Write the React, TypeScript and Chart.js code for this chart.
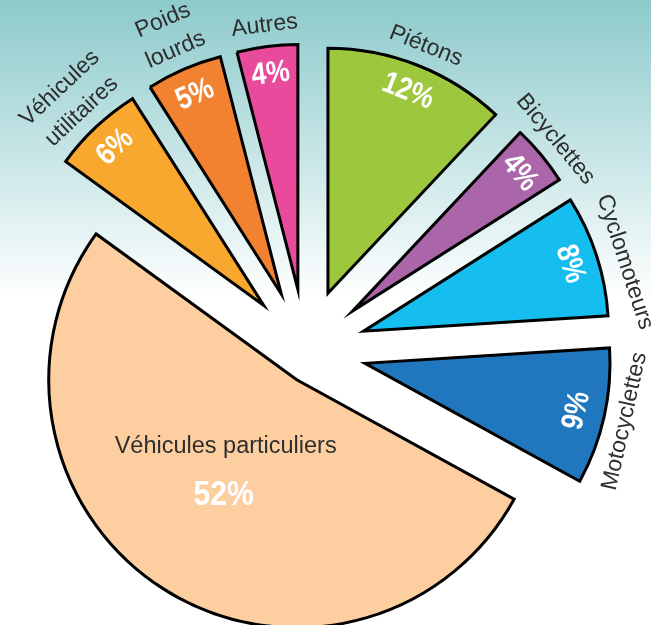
import { useEffect, useRef } from 'react';
import { Chart, registerables } from 'chart.js';

Chart.register(...registerables);

// Slices, clockwise from the top
const categories = ['Piétons', 'Bicyclettes', 'Cyclomoteurs', 'Motocyclettes', 'Véhicules particuliers', 'Véhicules utilitaires', 'Poids lourds', 'Autres'];
const categoryLines = [['Piétons'], ['Bicyclettes'], ['Cyclomoteurs'], ['Motocyclettes'], ['Véhicules particuliers'], ['Véhicules', 'utilitaires'], ['Poids', 'lourds'], ['Autres']];
const shares = [12, 4, 8, 9, 52, 6, 5, 4];
const shareLabels = ['12%', '4%', '8%', '9%', '52%', '6%', '5%', '4%'];
const colors = ['#9DC83D', '#AB66AA', '#16BEEF', '#2177BD', '#FCCEA0', '#F8A72F', '#F2822F', '#EA4A9B'];
// explode distance (px), tilt of the explode direction (deg), extra radius (px)
const explode = [61, 61, 61, 61, 31, 61, 61, 61];
const explodeTilt = [0, 0, 0, 0, -16, 0, 0, 0];
const radiusExtra = [0, 0, 0, 0, 3, 0, 0, 0];
// category label nudges along the arc (px) and outward (px)
const labelAlong = [0, -3, 15, 0, 0, 0, 0, 0];
const labelOut = [0, 0, 4, 0, 0, 0, 0, 0];

const TEXT_FONT = '"Liberation Sans", Arial, sans-serif';

function drawText(ctx: CanvasRenderingContext2D, text: string, x: number, y: number, rot: number, font: string, color: string, sx = 1) {
  ctx.save();
  ctx.translate(x, y);
  ctx.rotate(rot);
  ctx.scale(sx, 1);
  ctx.font = font;
  ctx.fillStyle = color;
  ctx.textAlign = 'center';
  ctx.textBaseline = 'middle';
  ctx.fillText(text, 0, 0);
  ctx.restore();
}

const backgroundPlugin = {
  id: 'gradientBackground',
  beforeDraw(chart: any) {
    const { ctx, width, height } = chart;
    ctx.save();
    ctx.fillStyle = '#FFFFFF';
    ctx.fillRect(0, 0, width, height);
    const g = ctx.createLinearGradient(0, 0, 0, 300);
    g.addColorStop(0, '#8DCACC');
    g.addColorStop(1, '#FFFFFF');
    ctx.fillStyle = g;
    ctx.fillRect(0, 0, width, 300);
    ctx.restore();
  },
};

const explodePlugin = {
  id: 'explodeSlices',
  afterDatasetsUpdate(chart: any) {
    const meta = chart.getDatasetMeta(0);
    meta.data.forEach((arc: any, i: number) => {
      const dir = (arc.startAngle + arc.endAngle) / 2 + (explodeTilt[i] * Math.PI) / 180;
      arc.x += Math.cos(dir) * explode[i];
      arc.y += Math.sin(dir) * explode[i];
      arc.outerRadius += radiusExtra[i];
    });
  },
};

const labelPlugin = {
  id: 'sliceLabels',
  afterDatasetsDraw(chart: any) {
    const ctx: CanvasRenderingContext2D = chart.ctx;
    const meta = chart.getDatasetMeta(0);
    meta.data.forEach((arc: any, i: number) => {
      const { x, y, startAngle, endAngle, outerRadius: r } = arc;
      const mid = (startAngle + endAngle) / 2;
      const frac = (endAngle - startAngle) / (2 * Math.PI);
      if (frac > 0.3) {
        const px = x + Math.cos(mid) * r * 0.55;
        const py = y + Math.sin(mid) * r * 0.55;
        drawText(ctx, shareLabels[i], px, py, 0, `bold 35px ${TEXT_FONT}`, '#FFFFFF', 0.86);
        drawText(ctx, categories[i], px + 2, py - 48, 0, `23.5px ${TEXT_FONT}`, '#2E2E2E');
        return;
      }
      let rot = mid + Math.PI / 2;
      while (rot > Math.PI) rot -= 2 * Math.PI;
      while (rot <= -Math.PI) rot += 2 * Math.PI;
      if (rot > Math.PI / 2) rot -= Math.PI;
      if (rot < -Math.PI / 2) rot += Math.PI;
      const pr = r - 28;
      drawText(ctx, shareLabels[i], x + Math.cos(mid) * pr, y + Math.sin(mid) * pr, rot, `bold 31px ${TEXT_FONT}`, '#FFFFFF', 0.85);
      const lines = categoryLines[i];
      const n = lines.length;
      const tx = -Math.sin(mid);
      const ty = Math.cos(mid);
      lines.forEach((line, k) => {
        const lr = r + 21 + labelOut[i] + (n - 1 - k) * 32;
        const lx = x + Math.cos(mid) * lr + tx * labelAlong[i];
        const ly = y + Math.sin(mid) * lr + ty * labelAlong[i];
        drawText(ctx, line, lx, ly, rot, `23px ${TEXT_FONT}`, '#2E2E2E');
      });
    });
  },
};

export default function App() {
  const ref = useRef<HTMLCanvasElement>(null);
  useEffect(() => {
    const chart = new Chart(ref.current as HTMLCanvasElement, {
      type: 'pie',
      data: {
        labels: categories,
        datasets: [
          {
            data: shares,
            backgroundColor: colors,
            borderColor: '#000000',
            borderWidth: 3,
            borderJoinStyle: 'miter',
            clip: false,
          } as any,
        ],
      },
      options: {
        responsive: false,
        devicePixelRatio: 1,
        animation: false,
        events: [],
        rotation: 0,
        radius: 245,
        layout: { padding: { left: 0, right: 40, top: 75, bottom: 0 } },
        plugins: {
          legend: { display: false },
          tooltip: { enabled: false },
        },
      } as any,
      plugins: [backgroundPlugin, explodePlugin, labelPlugin],
    });
    return () => chart.destroy();
  }, []);
  return (
    <div style={{ position: 'fixed', left: 0, top: 0, width: 651, height: 625 }}>
      <canvas ref={ref} width={651} height={625} style={{ display: 'block', width: 651, height: 625 }} />
    </div>
  );
}
